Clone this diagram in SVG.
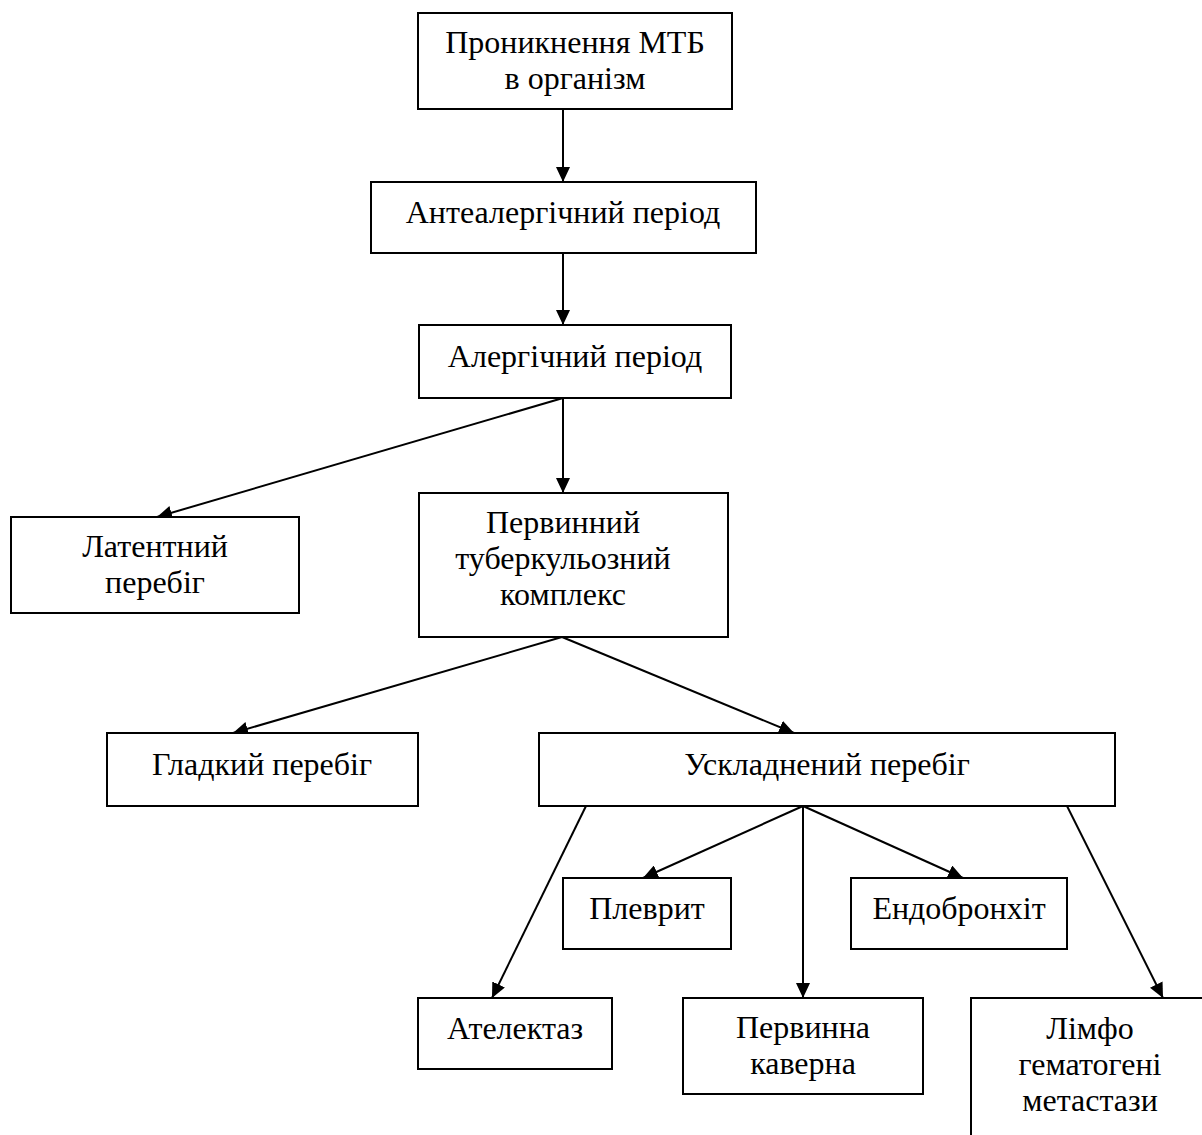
<svg xmlns="http://www.w3.org/2000/svg" width="1202" height="1135" viewBox="0 0 1202 1135">
<style>
.box{fill:#fff;stroke:#000;stroke-width:2}
.t{font-family:"Liberation Serif","Times New Roman",serif;font-size:32px;fill:#000;text-anchor:middle}
.c{stroke:#000;stroke-width:2;fill:none;marker-end:url(#ah)}
</style>
<defs>
<marker id="ah" markerWidth="15" markerHeight="14" refX="15" refY="7" orient="auto" markerUnits="userSpaceOnUse">
<path d="M0,0 L15,7 L0,14 Z" fill="#000"/>
</marker>
</defs>
<rect width="1202" height="1135" fill="#fff"/>
<g id="connectors">
<line class="c" x1="563" y1="109" x2="563" y2="182"/>
<line class="c" x1="563" y1="253" x2="563" y2="325"/>
<line class="c" x1="563" y1="398" x2="157" y2="517"/>
<line class="c" x1="563" y1="398" x2="563" y2="493"/>
<line class="c" x1="562" y1="637" x2="233" y2="733"/>
<line class="c" x1="562" y1="637" x2="794" y2="733"/>
<line class="c" x1="586" y1="806" x2="492" y2="998"/>
<line class="c" x1="803" y1="806" x2="643" y2="878"/>
<line class="c" x1="803" y1="806" x2="803" y2="998"/>
<line class="c" x1="803" y1="806" x2="963" y2="878"/>
<line class="c" x1="1067" y1="806" x2="1163" y2="998"/>
</g>
<g id="n1"><rect class="box" x="418" y="13" width="314" height="96"/><text class="t" x="575" y="53">Проникнення МТБ</text><text class="t" x="575" y="89">в організм</text></g>
<g id="n2"><rect class="box" x="371" y="182" width="385" height="71"/><text class="t" x="563" y="223">Антеалергічний період</text></g>
<g id="n3"><rect class="box" x="419" y="325" width="312" height="73"/><text class="t" x="575" y="367">Алергічний період</text></g>
<g id="n4"><rect class="box" x="11" y="517" width="288" height="96"/><text class="t" x="155" y="557">Латентний</text><text class="t" x="155" y="593">перебіг</text></g>
<g id="n5"><rect class="box" x="419" y="493" width="309" height="144"/><text class="t" x="563" y="533">Первинний</text><text class="t" x="563" y="569">туберкульозний</text><text class="t" x="563" y="605">комплекс</text></g>
<g id="n6"><rect class="box" x="107" y="733" width="311" height="73"/><text class="t" x="262" y="775">Гладкий перебіг</text></g>
<g id="n7"><rect class="box" x="539" y="733" width="576" height="73"/><text class="t" x="827" y="775">Ускладнений перебіг</text></g>
<g id="n8"><rect class="box" x="563" y="878" width="168" height="71"/><text class="t" x="647" y="919">Плеврит</text></g>
<g id="n9"><rect class="box" x="851" y="878" width="216" height="71"/><text class="t" x="959" y="919">Ендобронхіт</text></g>
<g id="n10"><rect class="box" x="418" y="998" width="194" height="71"/><text class="t" x="515" y="1039">Ателектаз</text></g>
<g id="n11"><rect class="box" x="683" y="998" width="240" height="96"/><text class="t" x="803" y="1038">Первинна</text><text class="t" x="803" y="1074">каверна</text></g>
<g id="n12"><rect class="box" x="971" y="998" width="238" height="170"/><text class="t" x="1090" y="1039">Лімфо</text><text class="t" x="1090" y="1075">гематогені</text><text class="t" x="1090" y="1111">метастази</text></g>
</svg>
